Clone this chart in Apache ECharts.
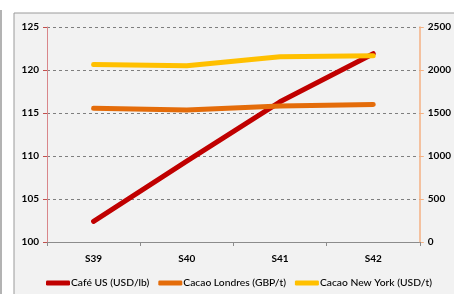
<!DOCTYPE html>
<html>
<head>
<meta charset="utf-8">
<script src="https://cdn.jsdelivr.net/npm/echarts@6/dist/echarts.min.js"></script>
<style>
  html, body { margin: 0; padding: 0; background: #fff; }
  #main { width: 454px; height: 294px; }
</style>
</head>
<body>
<div id="main"></div>
<script>
var categories = ["S39", "S40", "S41", "S42"];
var cafeUS = [102.4, 109.4, 116.3, 121.9];
var cacaoLondres = [1555, 1535, 1580, 1600];
var cacaoNewYork = [2065, 2050, 2155, 2165];
var leftTicks = [100, 125, 5];
var rightTicks = [0, 2500, 500];

var chart = echarts.init(document.getElementById("main"), null, { renderer: "canvas" });
var font = "Lato, 'Open Sans', sans-serif";

function lineSeries(name, data, color, axis) {
  return {
    name: name,
    type: "line",
    yAxisIndex: axis,
    data: data,
    symbol: "none",
    lineStyle: { width: 5, color: color, cap: "round", join: "round" },
    itemStyle: { color: color },
  };
}

var option = {
  animation: false,
  backgroundColor: "#fff",
  textStyle: { fontFamily: font },
  graphic: [
    {
      type: "rect",
      shape: { x: 14, y: 13, width: 460, height: 300 },
      style: { fill: "#f2f2f2", stroke: "#9a9a9a", lineWidth: 1 },
      z: -10,
    },
    {
      type: "line",
      shape: { x1: 1, y1: 10, x2: 1, y2: 294 },
      style: { stroke: "#9a9a9a", lineWidth: 1.5 },
      z: -10,
    },
  ],
  grid: { left: 47, right: 33, top: 27, bottom: 52 },
  legend: {
    bottom: 6,
    left: 46,
    padding: 0,
    itemWidth: 24,
    itemHeight: 5,
    itemGap: 9,
    icon: "roundRect",
    textStyle: { fontFamily: font, fontSize: 10.3, fontWeight: 500, color: "#000", padding: [0, 0, 0, -4] },
    data: ["Café US (USD/lb)", "Cacao Londres (GBP/t)", "Cacao New York (USD/t)"],
  },
  xAxis: {
    type: "category",
    data: categories,
    boundaryGap: true,
    axisLine: { lineStyle: { color: "#8c8c8c" } },
    axisTick: { show: true, length: 4, lineStyle: { color: "#8c8c8c" } },
    axisLabel: { fontFamily: font, fontSize: 10, fontWeight: "bold", color: "#000", margin: 12 },
  },
  yAxis: [
    {
      type: "value",
      min: leftTicks[0],
      max: leftTicks[1],
      interval: leftTicks[2],
      axisLine: { show: true, lineStyle: { color: "#d9868a" } },
      axisTick: { show: true, length: 4, lineStyle: { color: "#c0504d" } },
      splitLine: { show: true, lineStyle: { color: "#7f7f7f", type: [3, 3] } },
      axisLabel: { fontFamily: font, fontSize: 10, fontWeight: "bold", color: "#000", margin: 8 },
    },
    {
      type: "value",
      min: rightTicks[0],
      max: rightTicks[1],
      interval: rightTicks[2],
      position: "right",
      axisLine: { show: true, lineStyle: { color: "#f4b183", width: 1.5 } },
      axisTick: { show: true, length: 4, lineStyle: { color: "#f4b183" } },
      splitLine: { show: false },
      axisLabel: {
        fontFamily: font, fontSize: 10, fontWeight: "bold", color: "#000", margin: 8,
        formatter: function (v) { return String(v); },
      },
    },
  ],
  series: [
    lineSeries("Café US (USD/lb)", cafeUS, "#c00000", 0),
    lineSeries("Cacao Londres (GBP/t)", cacaoLondres, "#e46c0a", 1),
    lineSeries("Cacao New York (USD/t)", cacaoNewYork, "#ffc000", 1),
  ],
};

chart.setOption(option);
</script>
</body>
</html>
